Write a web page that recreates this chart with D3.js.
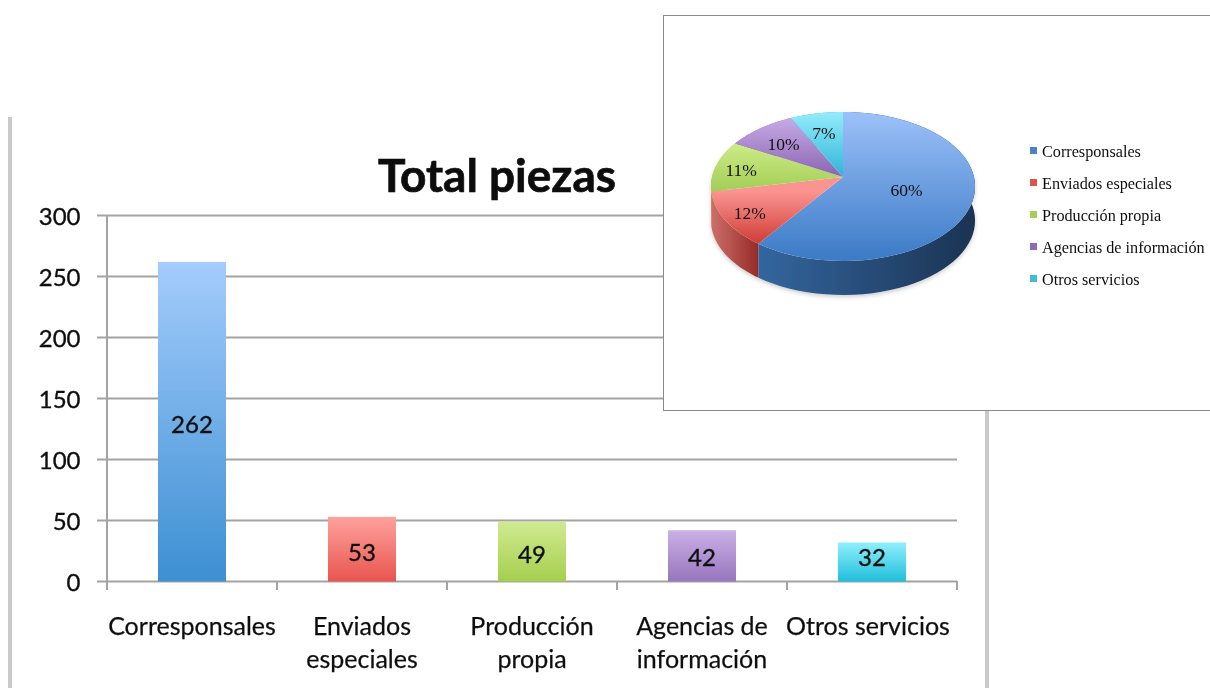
<!DOCTYPE html>
<html><head><meta charset="utf-8">
<script src="https://cdn.jsdelivr.net/npm/d3@7/dist/d3.min.js"></script>
<style>html,body{margin:0;padding:0;background:#fff;overflow:hidden}svg{display:block}</style>
</head><body><svg id="c" width="1210" height="688"></svg>
<script>
const categories = ["Corresponsales","Enviados especiales","Producción propia","Agencias de información","Otros servicios"];
const categoryLines = [["Corresponsales"],["Enviados","especiales"],["Producción","propia"],["Agencias de","información"],["Otros servicios"]];
const categoryShift = [0,0,0,0,-4];
const values = [262,53,49,42,32];
const percentLabels = ["60%","12%","11%","10%","7%"];
const yTicks = [0,50,100,150,200,250,300];
const barTop = ["#a4ccfc","#fea19c","#d0ea90","#cbb0e6","#90effc"];
const barBottom = ["#3d8fd2","#e8554f","#a5cf4e","#9676bd","#1fbfdc"];
const faceTop = ["#9cc1f9","#fb9490","#cdec88","#c6aae6","#93ecfc"];
const faceBottom = ["#3b7ac6","#cf3d36","#a3cc55","#8a65b0","#2fb4d6"];
const sideLeft = ["#33669f","#cd6f6a","#a3cc55","#8a65b0","#2fb4d6"];
const sideRight = ["#1b3352","#962b27","#a3cc55","#8a65b0","#2fb4d6"];
const legendColors = ["#4f81c7","#d9534f","#a6cf55","#8f6bb8","#3fbcd9"];
const labelRadius = [0.5,0.8,0.8,0.7,0.7];

const svg = d3.select("#c");
const defs = svg.append("defs");
defs.append("filter").attr("id","soft").attr("filterUnits","userSpaceOnUse").attr("x",0).attr("y",0).attr("width",1210).attr("height",688)
  .append("feGaussianBlur").attr("stdDeviation",0.7);
const sh = defs.append("filter").attr("id","shadow").attr("x","-10%").attr("y","-10%").attr("width","120%").attr("height","120%");
sh.append("feDropShadow").attr("dx",0).attr("dy",2).attr("stdDeviation",2).attr("flood-color","#000").attr("flood-opacity",0.2);
function grad(id,x1,y1,x2,y2,stops){
  const g=defs.append("linearGradient").attr("id",id).attr("gradientUnits","userSpaceOnUse")
    .attr("x1",x1).attr("y1",y1).attr("x2",x2).attr("y2",y2);
  stops.forEach((c,i)=>g.append("stop").attr("offset",i/(stops.length-1)).attr("stop-color",c));
}

/* ---------- bar chart ---------- */
const x = d3.scaleBand().domain(categories).range([107,957]).paddingInner(0.6).paddingOuter(0.3);
const y = d3.scaleLinear().domain([0,300]).range([581.5,215.5]);
const bar = svg.append("g").attr("filter","url(#soft)");

bar.append("rect").attr("x",8).attr("y",117).attr("width",4).attr("height",571).attr("fill","#c9c9c9");
bar.append("rect").attr("x",985).attr("y",400).attr("width",4).attr("height",288).attr("fill","#c9c9c9");

const sans = "Lato, 'Open Sans', sans-serif";
bar.append("text").attr("x",497).attr("y",192).attr("text-anchor","middle")
  .attr("font-family",sans).attr("font-weight",700).attr("font-size",46).attr("fill","#0c0c0c")
  .attr("stroke","#0c0c0c").attr("stroke-width",0.7).text("Total piezas");

bar.selectAll("line.grid").data(yTicks).join("line").attr("class","grid")
  .attr("x1",97).attr("x2",957).attr("y1",d=>y(d)).attr("y2",d=>y(d))
  .attr("stroke","#a3a3a3").attr("stroke-width",2);
bar.append("line").attr("x1",107).attr("x2",107).attr("y1",215).attr("y2",590).attr("stroke","#a3a3a3").attr("stroke-width",2);
d3.range(0,categories.length+1).forEach(i=>{
  const px=107+i*x.step();
  bar.append("line").attr("x1",px).attr("x2",px).attr("y1",581).attr("y2",590).attr("stroke","#a3a3a3").attr("stroke-width",2);
});
const heavy = sel => sel.attr("font-family",sans).attr("font-size",25).attr("fill","#111")
  .attr("stroke","#111").attr("stroke-width",0.35);
bar.selectAll("text.yt").data(yTicks).join("text").attr("class","yt")
  .attr("x",80.5).attr("y",d=>y(d)+9).attr("text-anchor","end").call(heavy).attr("font-size",24).text(d=>d);

categories.forEach((c,i)=>grad("bar"+i,0,y(values[i]),0,y(0),[barTop[i],barBottom[i]]));
bar.selectAll("rect.b").data(categories).join("rect").attr("class","b")
  .attr("x",d=>x(d)).attr("width",x.bandwidth())
  .attr("y",(d,i)=>y(values[i])).attr("height",(d,i)=>y(0)-y(values[i]))
  .attr("fill",(d,i)=>`url(#bar${i})`);
bar.selectAll("text.v").data(values).join("text").attr("class","v")
  .attr("x",(d,i)=>x(categories[i])+x.bandwidth()/2)
  .attr("y",d=>Math.min((y(d)+y(0))/2+2.5,557)+9)
  .attr("text-anchor","middle").call(heavy).attr("font-size",24).text(d=>d);
categories.forEach((c,i)=>{
  const cx=x(c)+x.bandwidth()/2+categoryShift[i];
  categoryLines[i].forEach((ln,j)=>bar.append("text").attr("x",cx).attr("y",635+j*33)
    .attr("text-anchor","middle").call(heavy).attr("stroke-width",0.25).text(ln));
});

/* ---------- pie box ---------- */
svg.append("rect").attr("x",663.5).attr("y",15.5).attr("width",560).attr("height",395)
  .attr("fill","#fff").attr("stroke","#8a8a8a").attr("stroke-width",1);

const cx=843, topY=112, faceH=149, depth=34, k=1.29, ax=150;
function project(u,v){            // unit-disc point -> tilted perspective face
  const t=(v+1)/2, w=t+k*(1-t);
  return [cx+ax*u/w, topY+faceH*t/w];
}
const onRim=(a,r=1)=>project(r*Math.sin(a),-r*Math.cos(a));
const arcs=d3.pie().sort(null)(values);
const line=d3.line();
const rim=(a0,a1)=>d3.range(0,61).map(i=>onRim(a0+(a1-a0)*i/60));
const pie=svg.append("g").attr("filter","url(#soft)");
const sides=pie.append("g").attr("filter","url(#shadow)");

arcs.forEach((a,i)=>{
  const pts=rim(a.startAngle,a.endAngle);
  const xs=pts.map(p=>p[0]), ys=pts.map(p=>p[1]);
  grad("face"+i,0,d3.min(ys),0,Math.max(d3.max(ys),project(0,0)[1]),[faceTop[i],faceBottom[i]]);
  grad("side"+i,d3.min(xs),0,d3.max(xs),0,[sideLeft[i],sideRight[i]]);
});
[4,3,2,1,0].forEach(i=>{
  const a=arcs[i], pts=rim(a.startAngle,a.endAngle);
  const low=pts.map(p=>[p[0],p[1]+depth]).reverse();
  sides.append("path").attr("d",line(pts.concat(low))+"Z").attr("fill",`url(#side${i})`);
});
arcs.forEach((a,i)=>{
  const pts=rim(a.startAngle,a.endAngle);
  pie.append("path").attr("d",line([project(0,0),...pts])+"Z").attr("fill",`url(#face${i})`);
});
const serif="'Liberation Serif','DejaVu Serif',serif";
arcs.forEach((a,i)=>{
  const p=onRim((a.startAngle+a.endAngle)/2,labelRadius[i]);
  pie.append("text").attr("x",p[0]).attr("y",p[1]+8).attr("text-anchor","middle")
    .attr("font-family",serif).attr("font-size",17.5).attr("fill","#111").text(percentLabels[i]);
});
const legY=d3.scalePoint().domain(categories).range([151,279]);
categories.forEach((c,i)=>{
  pie.append("rect").attr("x",1030).attr("y",legY(c)-4).attr("width",7).attr("height",7).attr("fill",legendColors[i]);
  pie.append("text").attr("x",1042).attr("y",legY(c)+5.5).attr("font-family",serif).attr("font-size",16.2).attr("fill","#111").text(c);
});
</script></body></html>
